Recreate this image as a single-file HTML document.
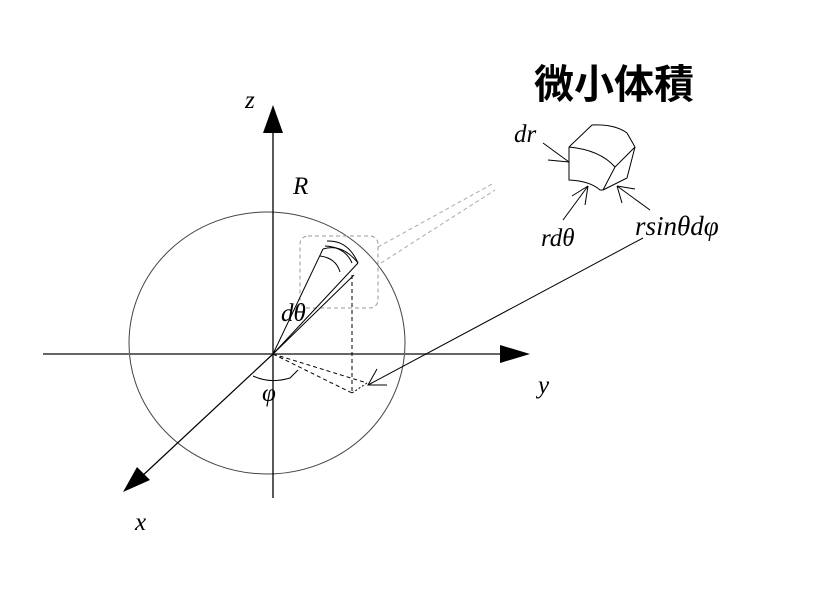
<!DOCTYPE html>
<html><head><meta charset="utf-8"><style>
body{margin:0;background:#fff}
svg{display:block}
text{font-family:"Liberation Serif",serif;font-style:italic;font-size:25px;fill:#000}
</style></head><body>
<svg width="829" height="595" viewBox="0 0 829 595" xmlns="http://www.w3.org/2000/svg">
<ellipse cx="267" cy="343" rx="138" ry="131" fill="none" stroke="#444" stroke-width="1"/>
<line x1="43" y1="354" x2="502" y2="354" stroke="#666" stroke-width="2"/>
<polygon points="530,354 500,345 500,363" fill="#000"/>
<line x1="273" y1="498" x2="273" y2="130" stroke="#000" stroke-width="1.3"/>
<polygon points="273,105 263,133 283,133" fill="#000"/>
<line x1="273" y1="354" x2="140" y2="478" stroke="#000" stroke-width="1.2"/>
<polygon points="123,492 137,467 150,480" fill="#000"/>
<rect x="300" y="236" width="78" height="72" rx="8" fill="none" stroke="#999" stroke-dasharray="4,3"/>
<line x1="378" y1="247" x2="494" y2="183" stroke="#aaa" stroke-dasharray="4,3"/>
<line x1="381" y1="263" x2="495" y2="190" stroke="#aaa" stroke-dasharray="4,3"/>
<line x1="273" y1="354" x2="323" y2="249" stroke="#000"/>
<line x1="273" y1="354" x2="358" y2="263" stroke="#000"/>
<line x1="273" y1="354" x2="354" y2="275" stroke="#000"/>
<path d="M323,249 Q342,243 358,263" fill="none" stroke="#000"/>
<path d="M327,241 Q348,240 358,263" fill="none" stroke="#000"/>
<path d="M325,246 Q345,247 352,263" fill="none" stroke="#000"/>
<path d="M320,256 Q336,258 340,272" fill="none" stroke="#000"/>
<line x1="352" y1="275" x2="352" y2="393" stroke="#000" stroke-dasharray="4,3"/>
<line x1="273" y1="354" x2="352" y2="393" stroke="#000" stroke-dasharray="4,3"/>
<line x1="273" y1="354" x2="367" y2="383" stroke="#000" stroke-dasharray="4,3"/>
<line x1="352" y1="393" x2="367" y2="383" stroke="#000" stroke-dasharray="2,2"/>
<path d="M253,376 Q270,384 290,378 L298,370" fill="none" stroke="#000"/>
<line x1="643" y1="238" x2="368" y2="385" stroke="#000"/>
<polyline points="377,369 368,385 387,385" fill="none" stroke="#000"/>
<g fill="none" stroke="#000" stroke-width="1">
<path d="M569,147 L592,125 Q615,124 627,133 L635,147"/>
<path d="M569,147 Q600,150 615,167"/>
<path d="M635,147 L615,167 L603,190"/>
<path d="M569,147 L569,180 Q590,181 600,190 L603,190"/>
<path d="M635,147 L627,178 L603,190"/>
</g>
<g stroke="#000" fill="none">
<line x1="543" y1="143" x2="569" y2="162"/><line x1="548" y1="160" x2="569" y2="162"/>
<line x1="563" y1="220" x2="588" y2="186"/><line x1="588" y1="186" x2="585" y2="205"/><line x1="588" y1="186" x2="572" y2="196"/>
<line x1="650" y1="210" x2="617" y2="186"/><line x1="617" y1="186" x2="622" y2="203"/><line x1="617" y1="186" x2="635" y2="189"/>
</g>
<text x="245" y="108">z</text>
<text x="293" y="194">R</text>
<text x="281" y="321">dθ</text>
<text x="262" y="401">φ</text>
<text x="538" y="393">y</text>
<text x="135" y="530">x</text>
<text x="514" y="142">dr</text>
<text x="541" y="246">rdθ</text>
<text x="635" y="235" style="font-size:27px">rsinθdφ</text>
<text x="534" y="98" style="font-family:'Liberation Sans','Noto Sans CJK JP',sans-serif;font-style:normal;font-size:40px;font-weight:bold">微小体積</text>
</svg>
</body></html>
